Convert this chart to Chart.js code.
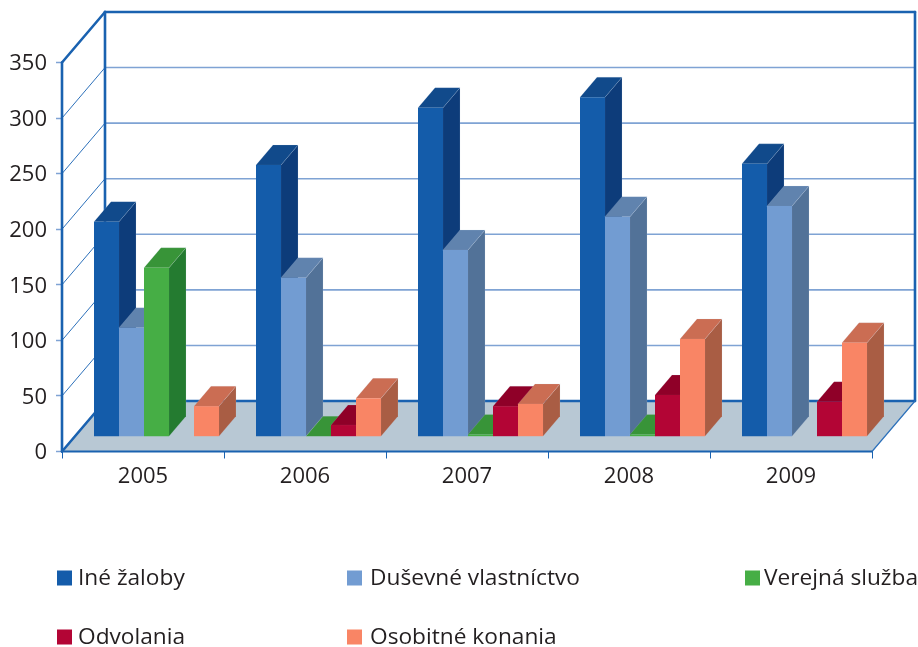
<!DOCTYPE html>
<html>
<head>
<meta charset="utf-8">
<style>
  html, body { margin: 0; padding: 0; background: #fff; }
  canvas { display: block; }
</style>
<script src="https://cdn.jsdelivr.net/npm/chart.js@4"></script>
</head>
<body>
<canvas id="grafico" width="918" height="647"></canvas>
<script>
const roky = ["2005", "2006", "2007", "2008", "2009"];
const ineZaloby = [193.5, 244.5, 296, 305.5, 245.5];
const dusevne = [98, 143, 168, 198, 207.5];
const verejna = [152, 0.5, 2, 2, 0];
const odvolania = [0, 10.5, 27.5, 37.5, 31.5];
const osobitne = [27.5, 34.5, 29.5, 88, 84.5];

const textColor = "#231f20";
const axisColor = "#1a62b0";

// depth of the whole box, of one bar, and where the bars stand on the floor
const wallDx = 43, wallDy = -50.5;
const barDx = 17, barDy = -20;
const rowDx = 13.5, rowDy = -14.8;

// where the legend rows sit: square left, text left, middle y
const legendSlots = [
  [57, 78, 578], [347, 370, 578], [745, 764, 578],
  [57, 78, 637], [347, 370, 637],
];

function serie(label, data, front, top, side) {
  return {
    label, data,
    backgroundColor: front,
    topColor: top,
    sideColor: side,
    clip: false,
    barPercentage: 1,
    categoryPercentage: 125 / 162,
  };
}

function poly(ctx, pts, fill, edge) {
  ctx.beginPath();
  pts.forEach((p, i) => (i ? ctx.lineTo(p[0], p[1]) : ctx.moveTo(p[0], p[1])));
  ctx.closePath();
  ctx.fillStyle = fill;
  ctx.fill();
  if (edge) {
    ctx.strokeStyle = edge;
    ctx.lineWidth = 0.6;
    ctx.stroke();
  }
}

function line(ctx, x1, y1, x2, y2, color, w) {
  ctx.beginPath();
  ctx.moveTo(x1, y1);
  ctx.lineTo(x2, y2);
  ctx.strokeStyle = color;
  ctx.lineWidth = w;
  ctx.lineCap = "round";
  ctx.stroke();
}

const boxPlugin = {
  id: "box3d",
  // back wall, floor and frame, taken from the scales
  beforeDatasetsDraw(chart) {
    const ctx = chart.ctx;
    const { left, right, top, bottom } = chart.chartArea;
    const y = chart.scales.y;

    poly(ctx, [[left, bottom], [left + wallDx, bottom + wallDy], [right + wallDx, bottom + wallDy], [right, bottom]], "#b8c8d4");

    y.ticks.forEach((t) => {
      if (t.value === 0 || t.value === 350) return;
      const py = y.getPixelForValue(t.value);
      line(ctx, left, py, left + wallDx, py + wallDy, "#2c70ba", 1);
      line(ctx, left + wallDx, py + wallDy, right + wallDx, py + wallDy, "#7fa3d4", 1.6);
    });

    line(ctx, left + wallDx, bottom + wallDy, right + wallDx, bottom + wallDy, axisColor, 2.4);
    line(ctx, left + wallDx, top + wallDy, right + wallDx, top + wallDy, axisColor, 2.6);
    line(ctx, left + wallDx, top + wallDy, left + wallDx, bottom + wallDy, axisColor, 2.6);
    line(ctx, right + wallDx, top + wallDy, right + wallDx, bottom + wallDy, axisColor, 2.6);
    line(ctx, left, top, left + wallDx, top + wallDy, axisColor, 2.6);
    line(ctx, left, top, left, bottom, axisColor, 2.6);
    line(ctx, left, bottom, left + wallDx, bottom + wallDy, axisColor, 2.6);
    line(ctx, right, bottom, right + wallDx, bottom + wallDy, "#2c70ba", 1.2);
    line(ctx, left, bottom, right, bottom, axisColor, 1.8);
  },
  // chart.js paints the first dataset last, here the next bar has to cover the side of the previous one
  beforeDatasetDraw() {
    return false;
  },
  afterDatasetsDraw(chart) {
    const ctx = chart.ctx;
    chart.data.datasets.forEach((ds, d) => {
      const meta = chart.getDatasetMeta(d);
      ctx.save();
      ctx.translate(rowDx, rowDy);
      meta.data.forEach((bar, i) => {
        if (!ds.data[i]) return;
        const l = bar.x - bar.width / 2, r = bar.x + bar.width / 2;
        const t = bar.y, b = bar.base;
        poly(ctx, [[r, t], [r + barDx, t + barDy], [r + barDx, b + barDy], [r, b]], ds.sideColor, "rgba(200,215,235,0.25)");
        poly(ctx, [[l, t], [l + barDx, t + barDy], [r + barDx, t + barDy], [r, t]], ds.topColor, "rgba(200,215,235,0.25)");
      });
      meta.controller.draw();
      ctx.restore();
    });
  },
  afterDraw(chart) {
    const ctx = chart.ctx;
    ctx.save();
    ctx.font = "22.7px 'Open Sans'";
    ctx.textBaseline = "middle";
    chart.data.datasets.forEach((ds, i) => {
      const [sx, tx, my] = legendSlots[i];
      ctx.fillStyle = ds.backgroundColor;
      ctx.fillRect(sx, my - 7.5, 15, 15);
      ctx.fillStyle = textColor;
      ctx.fillText(ds.label, tx, my + 1);
    });
    ctx.restore();
  },
};

new Chart(document.getElementById("grafico").getContext("2d"), {
  type: "bar",
  data: {
    labels: roky,
    datasets: [
      serie("Iné žaloby", ineZaloby, "#145caa", "#114a8b", "#0d3c7a"),
      serie("Duševné vlastníctvo", dusevne, "#729cd2", "#6083ae", "#527298"),
      serie("Verejná služba", verejna, "#46ae45", "#389438", "#247b30"),
      serie("Odvolania", odvolania, "#b30535", "#8f0028", "#8f0028"),
      serie("Osobitné konania", osobitne, "#f98565", "#cb6d53", "#a95d44"),
    ],
  },
  options: {
    responsive: false,
    animation: false,
    layout: { padding: { top: 62.5, right: 46, bottom: 0, left: 0 } },
    plugins: { legend: { display: false }, tooltip: { enabled: false } },
    scales: {
      x: {
        afterFit: (s) => { s.height = 195.5; },
        border: { display: false },
        grid: { drawOnChartArea: false, tickLength: 7, tickColor: axisColor, tickWidth: 1 },
        ticks: { color: textColor, font: { family: "'Open Sans'", size: 22 }, padding: 5, maxRotation: 0 },
      },
      y: {
        min: 0,
        max: 350,
        afterFit: (s) => { s.width = 62; },
        border: { display: false },
        grid: { drawOnChartArea: false, tickLength: 6, tickColor: "#7fa3d4", tickWidth: 1.5 },
        ticks: { stepSize: 50, color: textColor, font: { family: "'Open Sans'", size: 22 }, padding: 9, labelOffset: 1.5 },
      },
    },
  },
  plugins: [boxPlugin],
});
</script>
</body>
</html>
